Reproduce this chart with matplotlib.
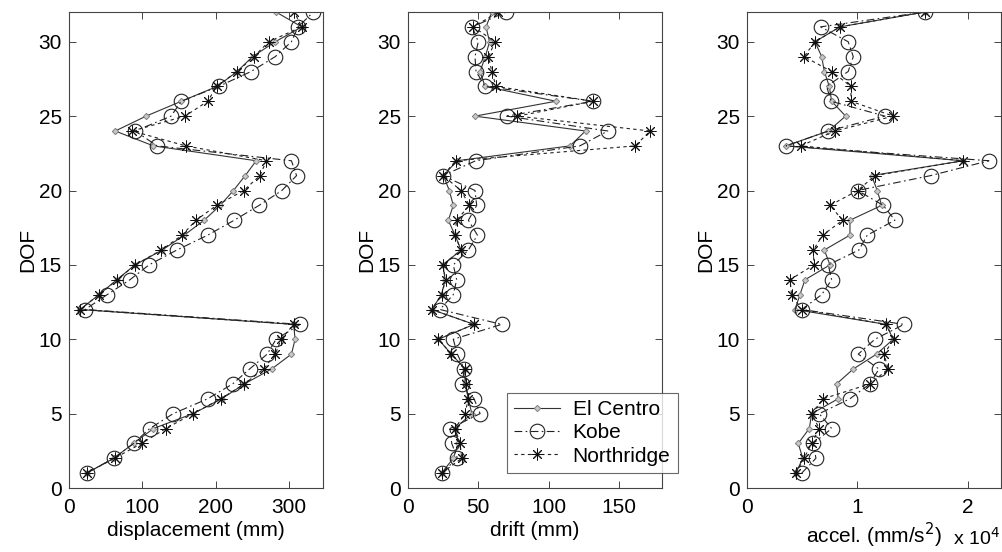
import numpy as np
import matplotlib
matplotlib.use("Agg")
import matplotlib.pyplot as plt
from matplotlib.ticker import FuncFormatter

plt.rcParams['font.family'] = ['Liberation Sans', 'DejaVu Sans']

dof = list(range(1, 33))

# displacement (mm), DOF 1..32
disp_elcentro = [24, 61, 88, 115, 169, 208, 239, 276, 303, 308, 306, 15, 41, 65, 90, 127,
                 157, 184, 206, 224, 240, 255, 115, 63, 105, 153, 202, 229, 250, 281, 317, 282]
disp_kobe = [24, 61, 88, 110, 142, 189, 223, 246, 270, 282, 315, 22, 52, 83, 109, 147,
             189, 225, 259, 290, 310, 303, 120, 90, 139, 153, 204, 248, 281, 303, 312, 333]
disp_northridge = [24, 62, 99, 132, 169, 207, 239, 265, 281, 289, 306, 15, 41, 66, 90, 126,
                   154, 173, 201, 238, 260, 269, 159, 86, 158, 189, 201, 229, 252, 272, 317, 307]

# drift (mm)
drift_elcentro = [24, 32.3, 35.9, 33.5, 45.4, 43, 40.6, 40.6, 31, 21.7, 47, 17, 24, 26.5, 25, 37.8,
                  33.5, 28.8, 32.3, 29.5, 25.3, 35, 115, 126, 47.7, 105, 54.8, 51.3, 55, 58, 55.5, 59.6]
drift_kobe = [24, 35.2, 31.2, 30, 51.3, 47, 38.7, 40, 35.2, 32.3, 66.6, 22.9, 32.3, 34.7, 32.3, 43,
              49.4, 43, 48.9, 47.7, 25, 48.2, 122, 141.8, 70.2, 131.6, 54.8, 48.4, 47.7, 50, 45.8, 69.7]
drift_northridge = [24, 38.3, 37.1, 33.5, 40.6, 43, 41.3, 40.6, 31, 21.7, 47, 17, 24, 26.9, 24.8, 37.8,
                    33.5, 34.7, 43.7, 37.8, 25, 34, 161.2, 171.8, 77.8, 131.6, 62.6, 59.6, 57.2, 61.9, 46.5, 64.3]

# acceleration (mm/s^2)
acc_elcentro = [4460, 5070, 4670, 5670, 5880, 8290, 8140, 9650, 11760, 13270, 12610, 4370, 4820, 5280, 7540, 7030,
                9350, 9350, 12220, 11820, 11310, 19600, 3560, 7390, 8960, 7690, 7480, 7030, 6790, 6180, 8440, 16140]
acc_kobe = [4980, 6270, 6030, 7690, 6570, 9350, 11160, 11970, 10100, 11610, 14240, 4980, 6790, 7690, 7390, 10160,
            10920, 13420, 12360, 10050, 16650, 21930, 3560, 7390, 12520, 7630, 7240, 9190, 9650, 9190, 6690, 16140]
acc_northridge = [4460, 5190, 5880, 6570, 5880, 6930, 11160, 12820, 12420, 13330, 12610, 4980, 4070, 3920, 6090, 6030,
                  6880, 8690, 7540, 10050, 11610, 19600, 4890, 7990, 13270, 9440, 9440, 7690, 5190, 6180, 8440, 16140]

series_names = ['El Centro', 'Kobe', 'Northridge']

fig = plt.figure(figsize=(10.03, 5.52), dpi=100)
W, H = 1003.0, 552.0
bottom = 1 - 488.0 / H
height = (488.0 - 12.0) / H
lefts = [69.0, 407.7, 746.7]
width = 254.0 / W

styles = [
    dict(color='#333333', linestyle='-', linewidth=0.8, marker='D', markersize=3.2,
         markerfacecolor='#c8c8c8', markeredgecolor='#808080', markeredgewidth=0.7),
    dict(color='#222222', linestyle=(0, (7, 3, 1.5, 3)), linewidth=0.8, marker='o', markersize=10.5,
         markerfacecolor='none', markeredgecolor='#222222', markeredgewidth=0.8),
    dict(color='#222222', linestyle=(0, (3, 3)), linewidth=0.8, marker=(8, 2, 0), markersize=8.5,
         markeredgecolor='#111111', markeredgewidth=0.7),
]

data = [
    (disp_elcentro, disp_kobe, disp_northridge),
    (drift_elcentro, drift_kobe, drift_northridge),
    (acc_elcentro, acc_kobe, acc_northridge),
]
xlims = [(0, 346), (0, 180), (0, 23000)]
xticks = [[0, 100, 200, 300], [0, 50, 100, 150], [0, 10000, 20000]]
xlabels = ['displacement (mm)', 'drift (mm)', 'accel. (mm/s$^2$)']

axes = []
for i in range(3):
    ax = fig.add_axes([lefts[i] / W, bottom, width, height])
    handles = []
    for j in range(3):
        h, = ax.plot(data[i][j], dof, label=series_names[j], **styles[j])
        handles.append(h)
    ax.set_xlim(*xlims[i])
    ax.set_ylim(0, 32)
    ax.set_xticks(xticks[i])
    ax.set_yticks([0, 5, 10, 15, 20, 25, 30])
    ax.tick_params(direction='in', top=True, right=True, labelsize=15, length=5,
                   width=0.7, color='#444444')
    ax.tick_params(axis='x', pad=7)
    ax.tick_params(axis='y', pad=5)
    for s in ax.spines.values():
        s.set_linewidth(0.8)
        s.set_color('#444444')
    ax.set_ylabel('DOF', fontsize=15, labelpad=1)
    ax.set_xlabel(xlabels[i], fontsize=15, labelpad=3)
    axes.append(ax)

axes[2].xaxis.set_major_formatter(FuncFormatter(lambda v, p: '%g' % (v / 1e4)))
fig.text(953.0 / W, 1 - 545.0 / H, r'x 10$^4$', fontsize=14, ha='left', va='baseline')

leg = axes[1].legend(handles=handles, loc='upper left', bbox_to_anchor=(507.0 / W, 1 - 393.0 / H),
                     bbox_transform=fig.transFigure, fontsize=15, frameon=True, fancybox=False,
                     edgecolor='#444444', handlelength=2.2, borderpad=0.35, labelspacing=0.2,
                     handletextpad=0.6, borderaxespad=0)
leg.get_frame().set_linewidth(0.8)
leg.set_zorder(5)

fig.savefig('out.png', dpi=100, facecolor='white')
